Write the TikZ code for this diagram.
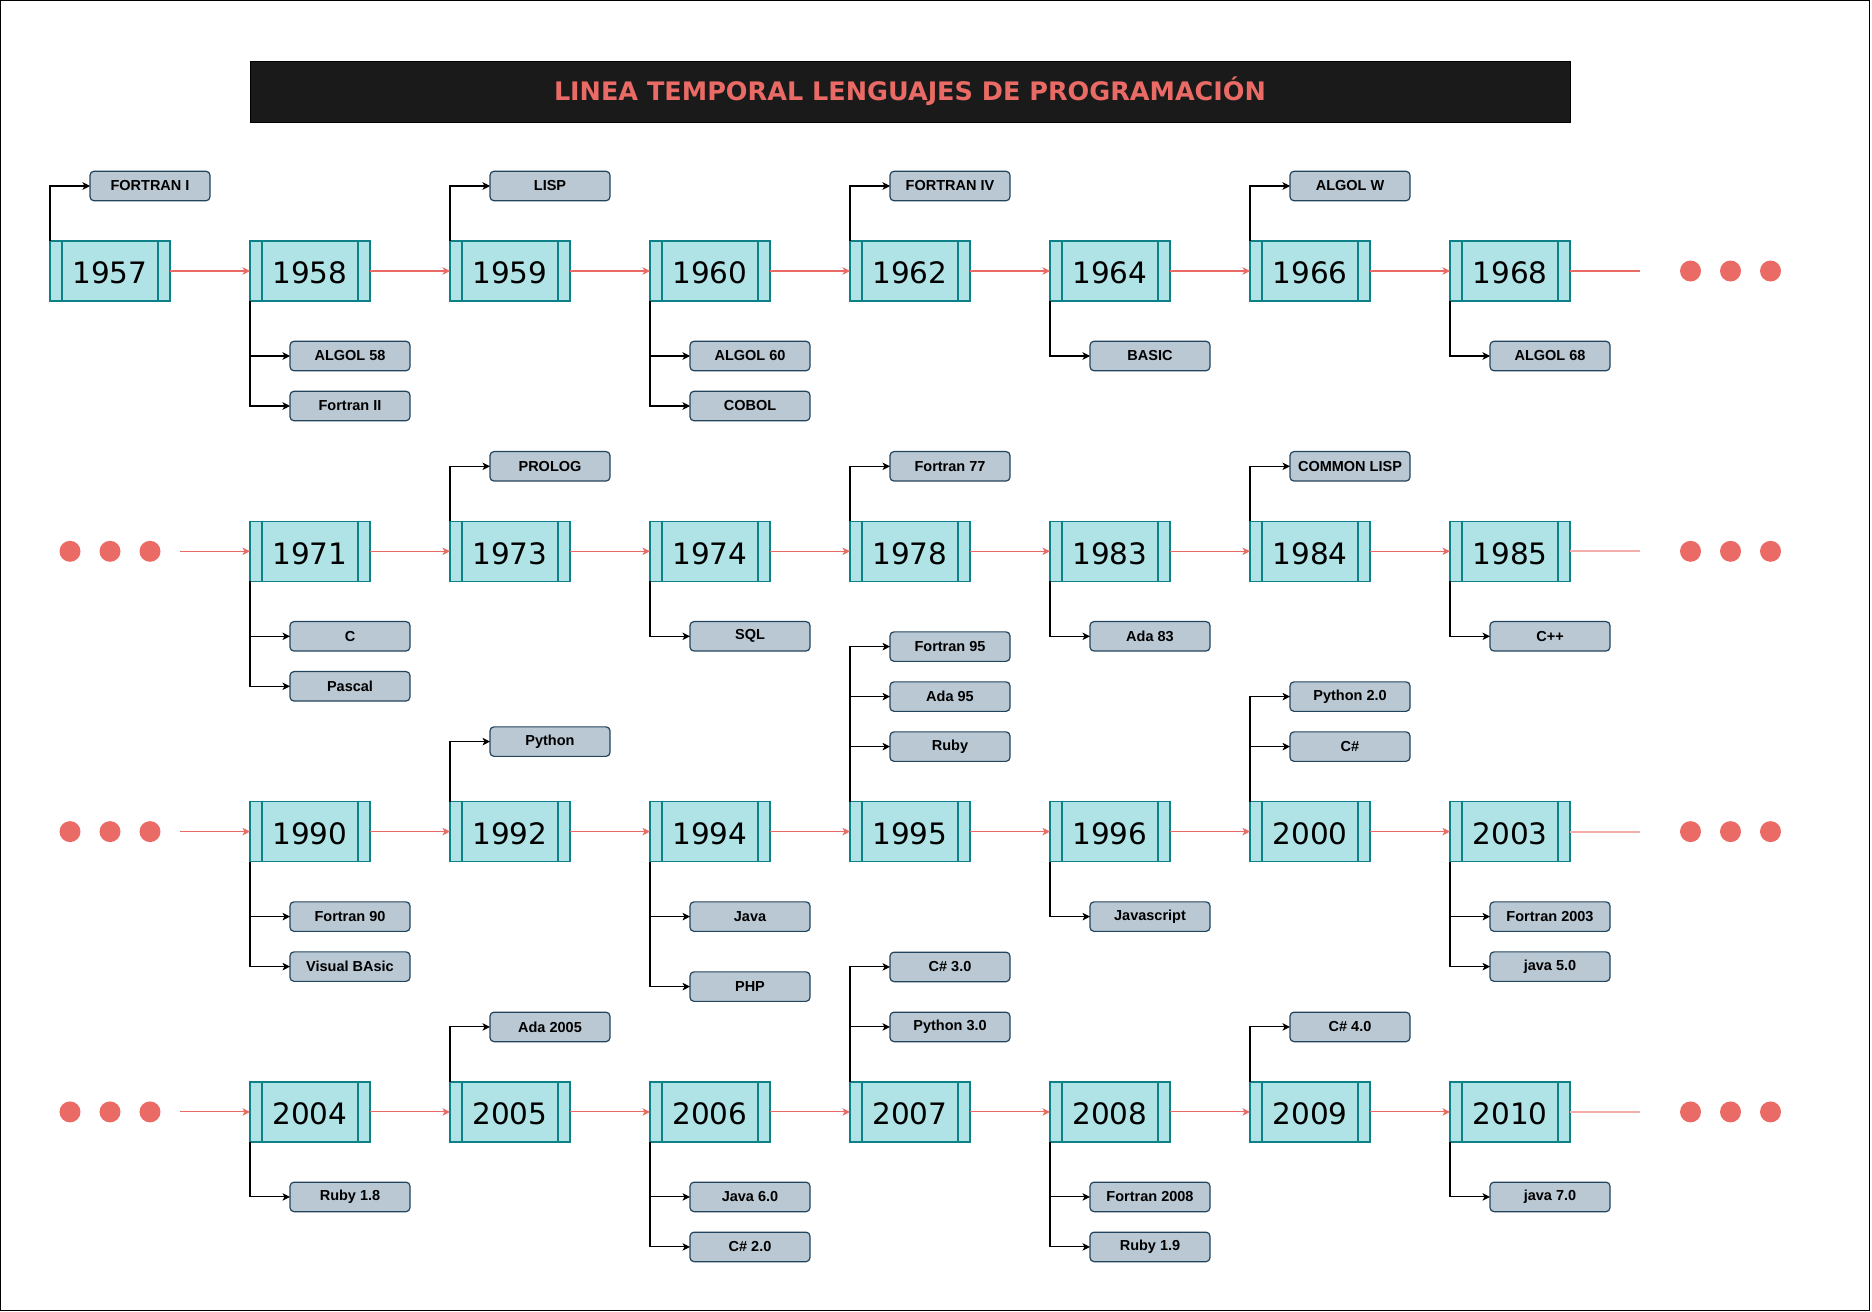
\documentclass[tikz,border=0pt]{standalone}
\usepackage{fontspec}
\newfontfamily\yearfont{DejaVu Sans}
\newfontfamily\titlefont{DejaVu Sans}
\newfontfamily\langfont{Liberation Sans}
\usepackage{xcolor}
\definecolor{yearfill}{RGB}{176,227,230}
\definecolor{yearline}{RGB}{14,128,136}
\definecolor{langfill}{RGB}{186,200,211}
\definecolor{langline}{RGB}{35,68,93}
\definecolor{timered}{RGB}{234,107,102}
\definecolor{titlebg}{RGB}{26,26,26}
\usepackage{tikz}
\usetikzlibrary{arrows.meta,positioning}

\begin{document}
\begin{tikzpicture}[x=1pt,y=1pt,node distance=220.3pt and 80pt]
  \tikzstyle{yearbox}=[rectangle,draw=yearline,line width=1.2pt,fill=yearfill,minimum width=120pt,minimum height=60pt,inner sep=0pt,outer sep=0pt,text height=25.5pt,text depth=0pt,font=\yearfont\fontsize{29.5}{30}\selectfont,
    path picture={\draw[yearline,line width=1.2pt] ([xshift=12pt]path picture bounding box.north west) -- ([xshift=12pt]path picture bounding box.south west)
      ([xshift=-12pt]path picture bounding box.north east) -- ([xshift=-12pt]path picture bounding box.south east);}]
  \tikzstyle{langbox}=[rectangle,rounded corners=4pt,draw=langline,line width=1.2pt,fill=langfill,minimum width=120pt,minimum height=29.5pt,inner sep=0pt,outer sep=0pt,font=\langfont\bfseries\fontsize{14.5}{15}\selectfont]
  \tikzstyle{titlebar}=[rectangle,fill=titlebg,draw=black,minimum width=1320pt,minimum height=61pt,text=timered,font=\titlefont\bfseries\fontsize{25.5}{26}\selectfont]
  \tikzstyle{dot}=[circle,fill=timered,minimum size=21pt,inner sep=0pt,outer sep=0pt]
  \tikzstyle{redarrow}=[draw=timered,line width=1.1pt,-{Stealth[length=7.5pt,width=7.5pt,inset=2pt]}]
  \tikzstyle{redline}=[draw=timered,line width=1.1pt,shorten >=40pt]
  \tikzstyle{fadeline}=[draw=timered!55,line width=2pt,shorten >=40pt]
  \tikzstyle{conn}=[draw=black,line width=1.1pt,-{Stealth[length=7.5pt,width=7.5pt,inset=2pt]}]
  \useasboundingbox (0,0) rectangle (1872,-1312);
  \draw[black,line width=1.2pt] (0.6,-0.6) rectangle (1869.5,-1310.4);
  \node[titlebar] (title) at (910,-91.5) {LINEA TEMPORAL LENGUAJES DE PROGRAMACIÓN};

  \node[yearbox] (y1957) at (110,-271) {1957};
  \node[yearbox,right=of y1957] (y1958) {1958};
  \node[yearbox,right=of y1958] (y1959) {1959};
  \node[yearbox,right=of y1959] (y1960) {1960};
  \node[yearbox,right=of y1960] (y1962) {1962};
  \node[yearbox,right=of y1962] (y1964) {1964};
  \node[yearbox,right=of y1964] (y1966) {1966};
  \node[yearbox,right=of y1966] (y1968) {1968};
  \node[yearbox,below=of y1958] (y1971) {1971};
  \node[yearbox,right=of y1971] (y1973) {1973};
  \node[yearbox,right=of y1973] (y1974) {1974};
  \node[yearbox,right=of y1974] (y1978) {1978};
  \node[yearbox,right=of y1978] (y1983) {1983};
  \node[yearbox,right=of y1983] (y1984) {1984};
  \node[yearbox,right=of y1984] (y1985) {1985};
  \node[yearbox,below=of y1971] (y1990) {1990};
  \node[yearbox,right=of y1990] (y1992) {1992};
  \node[yearbox,right=of y1992] (y1994) {1994};
  \node[yearbox,right=of y1994] (y1995) {1995};
  \node[yearbox,right=of y1995] (y1996) {1996};
  \node[yearbox,right=of y1996] (y2000) {2000};
  \node[yearbox,right=of y2000] (y2003) {2003};
  \node[yearbox,below=of y1990] (y2004) {2004};
  \node[yearbox,right=of y2004] (y2005) {2005};
  \node[yearbox,right=of y2005] (y2006) {2006};
  \node[yearbox,right=of y2006] (y2007) {2007};
  \node[yearbox,right=of y2007] (y2008) {2008};
  \node[yearbox,right=of y2008] (y2009) {2009};
  \node[yearbox,right=of y2009] (y2010) {2010};

  \node[dot,right=110pt of y1968] (r1a) {};
  \node[dot,right=19pt of r1a] (r1b) {};
  \node[dot,right=19pt of r1b] (r1c) {};
  \node[dot,right=110pt of y1985] (r2a) {};
  \node[dot,right=19pt of r2a] (r2b) {};
  \node[dot,right=19pt of r2b] (r2c) {};
  \node[dot,right=110pt of y2003] (r3a) {};
  \node[dot,right=19pt of r3a] (r3b) {};
  \node[dot,right=19pt of r3b] (r3c) {};
  \node[dot,right=110pt of y2010] (r4a) {};
  \node[dot,right=19pt of r4a] (r4b) {};
  \node[dot,right=19pt of r4b] (r4c) {};
  \node[dot,left=89.5pt of y1971] (l2c) {};
  \node[dot,left=19pt of l2c] (l2b) {};
  \node[dot,left=19pt of l2b] (l2a) {};
  \node[dot,left=89.5pt of y1990] (l3c) {};
  \node[dot,left=19pt of l3c] (l3b) {};
  \node[dot,left=19pt of l3b] (l3a) {};
  \node[dot,left=89.5pt of y2004] (l4c) {};
  \node[dot,left=19pt of l4c] (l4b) {};
  \node[dot,left=19pt of l4b] (l4a) {};

  \node[langbox,right=40pt of y1957.west,yshift=85pt] (fortranI) {FORTRAN I};
  \node[langbox,right=40pt of y1958.west,yshift=-85pt] (algol58) {ALGOL 58};
  \node[langbox,right=40pt of y1958.west,yshift=-135pt] (fortranII) {Fortran II};
  \node[langbox,right=40pt of y1959.west,yshift=85pt] (lisp) {LISP};
  \node[langbox,right=40pt of y1960.west,yshift=-85pt] (algol60) {ALGOL 60};
  \node[langbox,right=40pt of y1960.west,yshift=-135pt] (cobol) {COBOL};
  \node[langbox,right=40pt of y1962.west,yshift=85pt] (fortranIV) {FORTRAN IV};
  \node[langbox,right=40pt of y1964.west,yshift=-85pt] (basic) {BASIC};
  \node[langbox,right=40pt of y1966.west,yshift=85pt] (algolW) {ALGOL W};
  \node[langbox,right=40pt of y1968.west,yshift=-85pt] (algol68) {ALGOL 68};

  \node[langbox,right=40pt of y1971.west,yshift=-85pt] (clang) {C};
  \node[langbox,right=40pt of y1971.west,yshift=-135pt] (pascal) {Pascal};
  \node[langbox,right=40pt of y1973.west,yshift=85pt] (prolog) {PROLOG};
  \node[langbox,right=40pt of y1974.west,yshift=-85pt] (sql) {SQL};
  \node[langbox,right=40pt of y1978.west,yshift=85pt] (fortran77) {Fortran 77};
  \node[langbox,right=40pt of y1983.west,yshift=-85pt] (ada83) {Ada 83};
  \node[langbox,right=40pt of y1984.west,yshift=85pt] (commonlisp) {COMMON LISP};
  \node[langbox,right=40pt of y1985.west,yshift=-85pt] (cpp) {C++};

  \node[langbox,right=40pt of y1990.west,yshift=-85pt] (fortran90) {Fortran 90};
  \node[langbox,right=40pt of y1990.west,yshift=-135pt] (visualbasic) {Visual BAsic};
  \node[langbox,right=40pt of y1992.west,yshift=90pt] (python) {Python};
  \node[langbox,right=40pt of y1994.west,yshift=-85pt] (java) {Java};
  \node[langbox,right=40pt of y1994.west,yshift=-155pt] (php) {PHP};
  \node[langbox,right=40pt of y1995.west,yshift=185pt] (fortran95) {Fortran 95};
  \node[langbox,right=40pt of y1995.west,yshift=135pt] (ada95) {Ada 95};
  \node[langbox,right=40pt of y1995.west,yshift=85pt] (ruby) {Ruby};
  \node[langbox,right=40pt of y1996.west,yshift=-85pt] (javascript) {Javascript};
  \node[langbox,right=40pt of y2000.west,yshift=135pt] (python20) {Python 2.0};
  \node[langbox,right=40pt of y2000.west,yshift=85pt] (csharp) {C\#};
  \node[langbox,right=40pt of y2003.west,yshift=-85pt] (fortran2003) {Fortran 2003};
  \node[langbox,right=40pt of y2003.west,yshift=-135pt] (java50) {java 5.0};

  \node[langbox,right=40pt of y2004.west,yshift=-85pt] (ruby18) {Ruby 1.8};
  \node[langbox,right=40pt of y2005.west,yshift=85pt] (ada2005) {Ada 2005};
  \node[langbox,right=40pt of y2006.west,yshift=-85pt] (java60) {Java 6.0};
  \node[langbox,right=40pt of y2006.west,yshift=-135pt] (csharp20) {C\# 2.0};
  \node[langbox,right=40pt of y2007.west,yshift=145pt] (csharp30) {C\# 3.0};
  \node[langbox,right=40pt of y2007.west,yshift=85pt] (python30) {Python 3.0};
  \node[langbox,right=40pt of y2008.west,yshift=-85pt] (fortran2008) {Fortran 2008};
  \node[langbox,right=40pt of y2008.west,yshift=-135pt] (ruby19) {Ruby 1.9};
  \node[langbox,right=40pt of y2009.west,yshift=85pt] (csharp40) {C\# 4.0};
  \node[langbox,right=40pt of y2010.west,yshift=-85pt] (java70) {java 7.0};

  \draw[redarrow] (y1957) -- (y1958);
  \draw[redarrow] (y1958) -- (y1959);
  \draw[redarrow] (y1959) -- (y1960);
  \draw[redarrow] (y1960) -- (y1962);
  \draw[redarrow] (y1962) -- (y1964);
  \draw[redarrow] (y1964) -- (y1966);
  \draw[redarrow] (y1966) -- (y1968);
  \draw[redline] (y1968) -- (r1a);
  \draw[redarrow,shorten <=19.5pt] (l2c) -- (y1971);
  \draw[redarrow] (y1971) -- (y1973);
  \draw[redarrow] (y1973) -- (y1974);
  \draw[redarrow] (y1974) -- (y1978);
  \draw[redarrow] (y1978) -- (y1983);
  \draw[redarrow] (y1983) -- (y1984);
  \draw[redarrow] (y1984) -- (y1985);
  \draw[fadeline] (y1985) -- (r2a);
  \draw[redarrow,shorten <=19.5pt] (l3c) -- (y1990);
  \draw[redarrow] (y1990) -- (y1992);
  \draw[redarrow] (y1992) -- (y1994);
  \draw[redarrow] (y1994) -- (y1995);
  \draw[redarrow] (y1995) -- (y1996);
  \draw[redarrow] (y1996) -- (y2000);
  \draw[redarrow] (y2000) -- (y2003);
  \draw[fadeline] (y2003) -- (r3a);
  \draw[redarrow,shorten <=19.5pt] (l4c) -- (y2004);
  \draw[redarrow] (y2004) -- (y2005);
  \draw[redarrow] (y2005) -- (y2006);
  \draw[redarrow] (y2006) -- (y2007);
  \draw[redarrow] (y2007) -- (y2008);
  \draw[redarrow] (y2008) -- (y2009);
  \draw[redarrow] (y2009) -- (y2010);
  \draw[fadeline] (y2010) -- (r4a);

  \draw[conn] (y1957.north west) |- (fortranI);
  \draw[conn] (y1958.south west) |- (fortranII);
  \draw[conn] (y1958.south west |- algol58.west) -- (algol58);
  \draw[conn] (y1959.north west) |- (lisp);
  \draw[conn] (y1960.south west) |- (cobol);
  \draw[conn] (y1960.south west |- algol60.west) -- (algol60);
  \draw[conn] (y1962.north west) |- (fortranIV);
  \draw[conn] (y1964.south west) |- (basic);
  \draw[conn] (y1966.north west) |- (algolW);
  \draw[conn] (y1968.south west) |- (algol68);
  \draw[conn] (y1971.south west) |- (pascal);
  \draw[conn] (y1971.south west |- clang.west) -- (clang);
  \draw[conn] (y1973.north west) |- (prolog);
  \draw[conn] (y1974.south west) |- (sql);
  \draw[conn] (y1978.north west) |- (fortran77);
  \draw[conn] (y1983.south west) |- (ada83);
  \draw[conn] (y1984.north west) |- (commonlisp);
  \draw[conn] (y1985.south west) |- (cpp);
  \draw[conn] (y1990.south west) |- (visualbasic);
  \draw[conn] (y1990.south west |- fortran90.west) -- (fortran90);
  \draw[conn] (y1992.north west) |- (python);
  \draw[conn] (y1994.south west) |- (php);
  \draw[conn] (y1994.south west |- java.west) -- (java);
  \draw[conn] (y1995.north west) |- (fortran95);
  \draw[conn] (y1995.north west |- ada95.west) -- (ada95);
  \draw[conn] (y1995.north west |- ruby.west) -- (ruby);
  \draw[conn] (y1996.south west) |- (javascript);
  \draw[conn] (y2000.north west) |- (python20);
  \draw[conn] (y2000.north west |- csharp.west) -- (csharp);
  \draw[conn] (y2003.south west) |- (java50);
  \draw[conn] (y2003.south west |- fortran2003.west) -- (fortran2003);
  \draw[conn] (y2004.south west) |- (ruby18);
  \draw[conn] (y2005.north west) |- (ada2005);
  \draw[conn] (y2006.south west) |- (csharp20);
  \draw[conn] (y2006.south west |- java60.west) -- (java60);
  \draw[conn] (y2007.north west) |- (csharp30);
  \draw[conn] (y2007.north west |- python30.west) -- (python30);
  \draw[conn] (y2008.south west) |- (ruby19);
  \draw[conn] (y2008.south west |- fortran2008.west) -- (fortran2008);
  \draw[conn] (y2009.north west) |- (csharp40);
  \draw[conn] (y2010.south west) |- (java70);
\end{tikzpicture}
\end{document}
